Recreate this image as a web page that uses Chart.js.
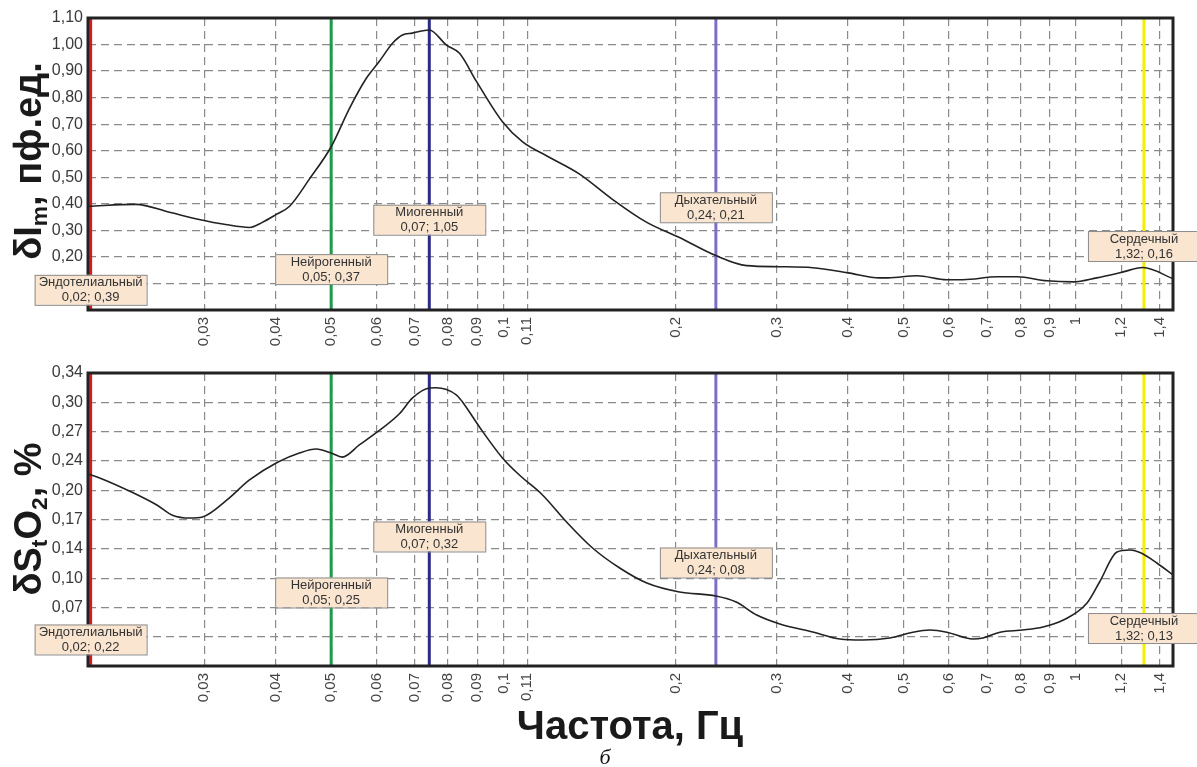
<!DOCTYPE html>
<html>
<head>
<meta charset="utf-8">
<script src="https://cdn.jsdelivr.net/npm/chart.js@4.4.0/dist/chart.umd.min.js"></script>
<style>
  body { margin: 0; background: #fff; font-family: "Liberation Sans", Arial, sans-serif; }
  #page { position: relative; width: 1197px; height: 767px; overflow: hidden; }
  canvas { position: absolute; left: 0; }
  #chartTop { top: 0; }
  #chartBot { top: 355px; }
  .ytitle { position: absolute; font-weight: bold; font-size: 38px; color: #1a1a1a; white-space: nowrap;
            transform: translate(-50%, -50%) rotate(-90deg); line-height: 1; }
  .ytitle sub { font-size: 60%; vertical-align: -0.25em; }
  #xtitle { position: absolute; left: 630px; top: 725px; transform: translate(-50%, -50%);
            font-weight: bold; font-size: 40px; color: #1a1a1a; white-space: nowrap; }
  #letter { position: absolute; left: 605px; top: 757px; transform: translate(-50%, -50%);
            font-family: "Liberation Serif", "DejaVu Serif", serif; font-style: italic; font-size: 22px; color: #111; }
</style>
</head>
<body>
<div id="page">
  <canvas id="chartTop" width="1197" height="360"></canvas>
  <canvas id="chartBot" width="1197" height="412"></canvas>
  <div class="ytitle" style="left:30px; top:161px;">δI<sub>m</sub>, пф.ед.</div>
  <div class="ytitle" style="left:30px; top:519px;">δS<sub>t</sub>O<sub>2</sub>, %</div>
  <div id="xtitle">Частота, Гц</div>
  <div id="letter">б</div>
</div>

<script>
// частоты (Гц) и значения
const freqTop = [0.0188, 0.0228, 0.0261, 0.0294, 0.0327, 0.0360, 0.0379, 0.0401, 0.0423, 0.0458, 0.050,
  0.0538, 0.0576, 0.0607, 0.0640, 0.0666, 0.0693, 0.0742, 0.0795, 0.0838, 0.0897, 0.0996, 0.108, 0.1189,
  0.1358, 0.155, 0.178, 0.203, 0.235, 0.266, 0.304, 0.347, 0.40, 0.454, 0.47, 0.528, 0.595, 0.635, 0.73,
  0.79, 0.89, 0.99, 1.088, 1.194, 1.31, 1.478];
const valTop = [0.391, 0.398, 0.368, 0.341, 0.322, 0.311, 0.330, 0.360, 0.391, 0.493, 0.615,
  0.759, 0.873, 0.937, 1.005, 1.036, 1.043, 1.055, 0.998, 0.967, 0.861, 0.709, 0.633, 0.581,
  0.512, 0.417, 0.330, 0.273, 0.205, 0.167, 0.163, 0.159, 0.140, 0.121, 0.121, 0.129, 0.114, 0.114, 0.125,
  0.125, 0.110, 0.106, 0.121, 0.140, 0.160, 0.118];

const freqBot = [0.0188, 0.0197, 0.0224, 0.0248, 0.0264, 0.0283, 0.0298, 0.0328, 0.036, 0.0403, 0.044,
  0.0471, 0.050, 0.0523, 0.056, 0.0602, 0.0658, 0.0693, 0.0742, 0.0762, 0.0828, 0.0848, 0.0908, 0.0996,
  0.1066, 0.117, 0.1289, 0.1431, 0.1596, 0.178, 0.203, 0.235, 0.255, 0.277, 0.304, 0.347, 0.387, 0.424,
  0.473, 0.519, 0.556, 0.595, 0.661, 0.688, 0.737, 0.808, 0.876, 0.951, 1.046, 1.10, 1.18, 1.243, 1.30,
  1.385, 1.478];
const valBot = [0.2215, 0.217, 0.2007, 0.1857, 0.174, 0.1707, 0.172, 0.191, 0.2146, 0.235, 0.2457,
  0.2503, 0.2457, 0.241, 0.255, 0.270, 0.291, 0.309, 0.3207, 0.321, 0.3126, 0.3046, 0.2757, 0.240,
  0.2203, 0.1973, 0.1661, 0.1361, 0.113, 0.0957, 0.0854, 0.0808, 0.0738, 0.0588, 0.0485, 0.0392, 0.0311, 0.030,
  0.0323, 0.039, 0.0415, 0.039, 0.0311, 0.0323, 0.039, 0.0415, 0.045, 0.053, 0.0727, 0.0969, 0.1315, 0.1338, 0.1303,
  0.1188, 0.105];

// ритмы
const rhythmNames = ['Эндотелиальный', 'Нейрогенный', 'Миогенный', 'Дыхательный', 'Сердечный'];
const rhythmFreq = [0.019, 0.05, 0.0742, 0.235, 1.315];
const rhythmTextTop = ['0,02; 0,39', '0,05; 0,37', '0,07; 1,05', '0,24; 0,21', '1,32; 0,16'];
const rhythmTextBot = ['0,02; 0,22', '0,05; 0,25', '0,07; 0,32', '0,24; 0,08', '1,32; 0,13'];

// подписи осей
const xTicks = [0.03, 0.04, 0.05, 0.06, 0.07, 0.08, 0.09, 0.1, 0.11, 0.2, 0.3, 0.4, 0.5, 0.6, 0.7, 0.8, 0.9, 1, 1.2, 1.4];
const yTicksTop = [0, 0.1, 0.2, 0.3, 0.4, 0.5, 0.6, 0.7, 0.8, 0.9, 1.0, 1.1];
const yTicksBot = [0, 0.0338, 0.0676, 0.1014, 0.1352, 0.169, 0.2028, 0.2366, 0.2704, 0.3042, 0.338];

const rhythmColors = ['#d81a1e', '#1f9a4a', '#2c2a86', '#7a70c6', '#f3ef00'];

const frame = {
    id: 'frame',
    afterDatasetsDraw(chart) {
        const { ctx, chartArea: a } = chart;
        ctx.save();
        ctx.strokeStyle = '#222';
        ctx.lineWidth = 3;
        ctx.strokeRect(a.left, a.top, a.right - a.left, a.bottom - a.top);
        ctx.restore();
    }
};

const rhythmBoxes = {
    id: 'rhythmBoxes',
    afterDraw(chart, args, opts) {
        const { ctx } = chart;
        const xs = chart.scales.x, ys = chart.scales.y;
        ctx.save();
        rhythmNames.forEach((name, i) => {
            const cx = xs.getPixelForValue(rhythmFreq[i]);
            const cy = ys.getPixelForValue(opts.yPos[i]);
            const w = 112, h = 30;
            ctx.fillStyle = '#f9e5d0';
            ctx.fillRect(cx - w / 2, cy - h / 2, w, h);
            ctx.strokeStyle = '#8c8c8c';
            ctx.lineWidth = 1;
            ctx.strokeRect(cx - w / 2 + 0.5, cy - h / 2 + 0.5, w, h);
            ctx.fillStyle = '#333';
            ctx.font = '13px "Liberation Sans", Arial, sans-serif';
            ctx.textAlign = 'center';
            ctx.textBaseline = 'middle';
            ctx.fillText(name, cx, cy - 7);
            ctx.fillText(opts.texts[i], cx, cy + 8);
        });
        ctx.restore();
    }
};

const makeChart = (canvasId, freqs, vals, yTicks, yMax, texts, yPos, padBottom) => {
    const curve = freqs.map((f, i) => ({ x: f, y: vals[i] }));
    const markers = rhythmFreq.map((f, i) => ({
        data: [{ x: f, y: 0 }, { x: f, y: yMax }],
        borderColor: rhythmColors[i],
        borderWidth: 3,
        pointRadius: 0,
        order: 1
    }));
    return new Chart(document.getElementById(canvasId), {
        type: 'line',
        data: {
            datasets: [{
                data: curve,
                borderColor: '#222',
                borderWidth: 1.6,
                pointRadius: 0,
                cubicInterpolationMode: 'monotone',
                order: 0
            }, ...markers]
        },
        options: {
            responsive: false,
            animation: false,
            layout: { padding: { left: 8, right: 24, top: 18, bottom: padBottom } },
            plugins: {
                legend: { display: false },
                tooltip: { enabled: false },
                rhythmBoxes: { texts: texts, yPos: yPos }
            },
            scales: {
                x: {
                    type: 'logarithmic',
                    min: 0.0188,
                    max: 1.478,
                    afterBuildTicks: axis => { axis.ticks = xTicks.map(v => ({ value: v })); },
                    afterFit: axis => { axis.height = 40; },
                    grid: { color: '#8a8a8a', lineWidth: 1.2, drawTicks: false },
                    border: { display: false, dash: [8, 5] },
                    ticks: {
                        autoSkip: false,
                        minRotation: 90,
                        maxRotation: 90,
                        padding: 7,
                        color: '#444',
                        font: { size: 15, family: '"Liberation Sans", Arial, sans-serif' },
                        callback: v => String(v).replace('.', ',')
                    }
                },
                y: {
                    min: 0,
                    max: yMax,
                    afterBuildTicks: axis => { axis.ticks = yTicks.map(v => ({ value: v })); },
                    afterFit: axis => { axis.width = 80; },
                    grid: { color: '#8a8a8a', lineWidth: 1.2, drawTicks: false },
                    border: { display: false, dash: [8, 5] },
                    ticks: {
                        padding: 5,
                        color: '#3a3a3a',
                        font: { size: 16, family: '"Liberation Sans", Arial, sans-serif' },
                        callback: v => v === 0 ? '' : v.toFixed(2).replace('.', ',')
                    }
                }
            }
        },
        plugins: [frame, rhythmBoxes]
    });
};

makeChart('chartTop', freqTop, valTop, yTicksTop, 1.1, rhythmTextTop, [0.076, 0.154, 0.34, 0.387, 0.241], 10);
makeChart('chartBot', freqBot, valBot, yTicksBot, 0.338, rhythmTextBot, [0.0306, 0.0848, 0.1494, 0.1194, 0.0438], 61);
</script>
</body>
</html>
